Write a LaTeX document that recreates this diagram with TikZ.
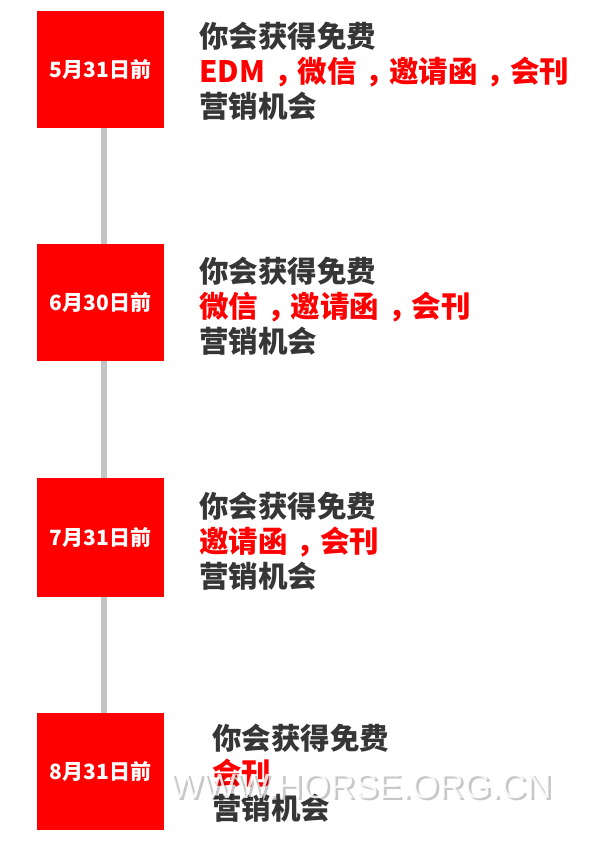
\documentclass[tikz,border=0pt]{standalone}
\usepackage{fontspec}
\newfontfamily\cjk{Noto Sans CJK SC}
\newfontfamily\wmfont{Liberation Sans}
\definecolor{cred}{HTML}{FF0000}
\definecolor{cdark}{HTML}{363636}
\definecolor{cline}{HTML}{C3C3C3}
\newcommand{\zcomma}{\hspace{0.3em}，\hspace{-0.2em}}
\begin{document}
\begin{tikzpicture}[x=1pt,y=-1pt,
  datebox/.style={fill=cred, draw=none, minimum width=127pt, minimum height=117pt, inner sep=0pt, text=white, font=\cjk\bfseries\fontsize{21}{24}\selectfont},
  info/.style={anchor=west, align=left, inner sep=0pt, text=cdark, font=\cjk\bfseries\fontsize{29.5}{35}\selectfont},
  conn/.style={draw=cline, line width=6.5pt},
  wmark/.style={anchor=base west, inner sep=0pt, font=\wmfont\fontsize{35}{35}\selectfont}]
\useasboundingbox (0,0) rectangle (600,842);
\fill[white] (0,0) rectangle (600,842);
% boxes
\node[datebox] (d1) at (100.5,69.5) {5月31日前};
\node[datebox] (d2) at (100.5,302.5) {6月30日前};
\node[datebox, minimum height=119pt] (d3) at (100.5,537.5) {7月31日前};
\node[datebox] (d4) at (100.5,771.5) {8月31日前};
% connectors
\draw[conn] ([xshift=3.5pt]d1.south) -- ([xshift=3.5pt]d2.north);
\draw[conn] ([xshift=3.5pt]d2.south) -- ([xshift=3.5pt]d3.north);
\draw[conn] ([xshift=3.5pt]d3.south) -- ([xshift=3.5pt]d4.north);
% texts
\node[info] (t1) at (199,71.5) {你会获得免费\\{\color{cred}EDM\zcomma 微信\zcomma 邀请函\zcomma 会刊}\\营销机会};
\node[info] (t2) at (199,306.5) {你会获得免费\\{\color{cred}微信\zcomma 邀请函\zcomma 会刊}\\营销机会};
\node[info] (t3) at (199,541) {你会获得免费\\{\color{cred}邀请函\zcomma 会刊}\\营销机会};
\node[info] (t4) at (212,773.5) {你会获得免费\\{\color{cred}会刊}\\营销机会};
% watermark
\node[wmark, text=black, opacity=0.22] (wms) at (172.5,800.5) {WWW.HORSE.ORG.CN};
\node[wmark, text=white, opacity=0.85] (wm) at (170,798) {WWW.HORSE.ORG.CN};
\end{tikzpicture}
\end{document}
